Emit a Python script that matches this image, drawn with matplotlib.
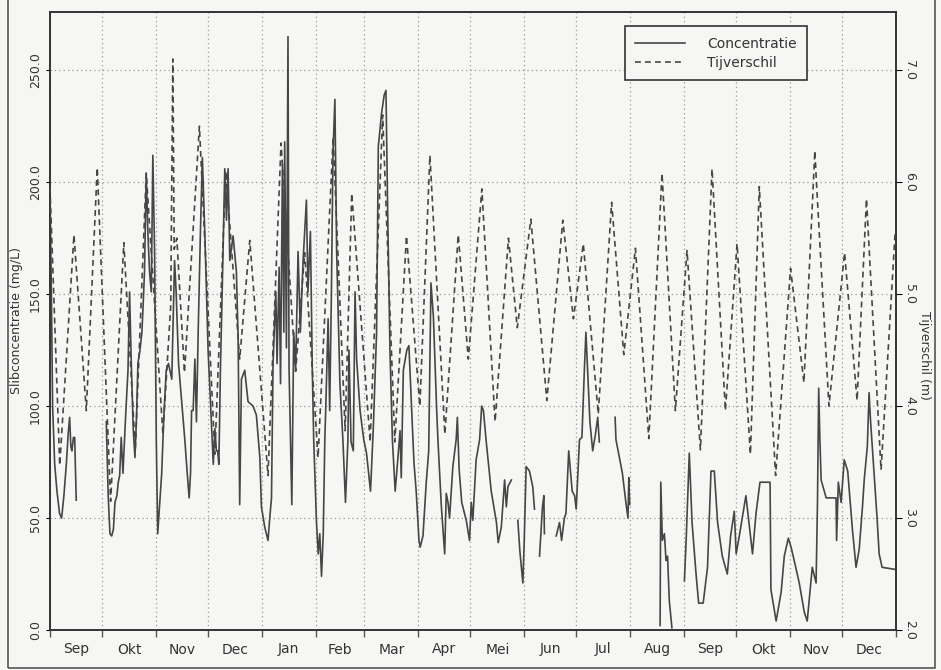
import numpy as np
import matplotlib
matplotlib.use("Agg")
import matplotlib.pyplot as plt
from matplotlib.patches import Rectangle
from matplotlib.lines import Line2D

nan = np.nan

# months shown on the x axis (Sep of year 1 .. Dec of year 2)
month_names = ["Sep", "Okt", "Nov", "Dec", "Jan", "Feb", "Mar", "Apr",
               "Mei", "Jun", "Jul", "Aug", "Sep", "Okt", "Nov", "Dec"]
month_days = [30, 31, 30, 31, 31, 28, 31, 30, 31, 30, 31, 31, 30, 31, 30, 31]

# slibconcentratie (mg/L), day counted from 1 Sep; nan = no measurement
conc_day = [0, 0.8, 1.5, 2.7, 4, 5.5, 6.7, 8, 9.4, 10.5, 11.3, 12, 12.6, 13.5, 14.2, 15.1, 15.5,
            32.4, 33.5, 34.5, 35.5, 36.5, 37.4, 38.5, 39.3, 40.1, 41, 42, 43.5, 44.9, 45.8,
            46.8, 47.9, 48.9, 49.8, 50.6, 51.8, 52.9, 53.6, 54.4, 55.4, 56.3, 57.3, 58.3,
            59.2, 60.2, 61.2, 62, 63, 64.3, 65.5, 66.9, 68.2, 70.1, 71.7, 72.6, 74, 75.5,
            77.6, 79, 80.1, 80.9, 81.5, 82.4, 83.4, 84.3, 85.3, 86.6, 87.7, 89.1, 91, 92.9,
            94, 94.9, 95.8, 96.5, 97.2, 98.1, 99.7, 100.6, 101.6, 102.5, 103.5, 105.4, 107.3,
            108.3, 109.2, 110.2, 112.1, 114, 116.9, 118.8, 120.8, 121.7, 123.6, 125.5, 126.5,
            127.5, 128.4, 130, 130.7, 131.9, 132.7, 133.8, 134.6, 135.1, 136.1, 137, 137.6,
            139.2, 140.3, 141.4, 142.8, 144.1, 145.7, 147.6, 148.5, 149.9, 151, 151.8, 153.4,
            154.4, 155.3, 156.3, 157.3, 158.2, 158.7, 160.1, 161, 162, 162.9, 164, 165, 166.9,
            168.6, 170.1, 171.5, 172.1, 173.3, 174.6, 175.6, 176.5, 178.5, 180.6, 182.2, 184.5,
            186.1, 188, 189, 190.9, 192.4, 193.4, 194.4, 195.7, 197.1, 198.7, 200.2, 201.5,
            202.2, 203.4, 205.4, 206.6, 208.2, 209.5, 210.8, 212.4, 213.1, 214.7, 216.6, 218,
            219.3, 220.7, 222.6, 223.3, 225.3, 227.2, 228.1, 229.1, 230, 231.9, 233.8, 234.5,
            235.5, 237, 239.6, 241.5, 242.5, 243.4, 245.3, 247.3, 248.5, 249.5, 251, 254, 257,
            258, 259.8, 261.7, 262.7, 263.6, 265.6, 266,
            269.3, 270.5, 272.2, 273, 274.1, 276, 277.9, 278.9, 279.5,
            281.8, 283.5, 284.3, 284.6, 285,
            291.4, 293.3, 294.5, 296.1, 297, 298.6, 300.6, 302, 302.9, 304.8, 306.2, 307.6,
            308.5, 309.5, 310.8, 312.4, 313.9, 315.3, 316.2, 317,
            325.3, 325.8, 327.5, 329.5, 331.5, 332.7, 333.2, 333.7, 334,
            351.2, 351.6, 352.5, 353.7, 354.6, 355.5, 356.5, 358, 359,
            365.2, 366.3, 368, 369.6, 371.9, 373.4, 376, 378.5, 380.5, 382.4, 384.3, 387,
            389.9, 391.8, 393.9, 395, 396.8, 400.6, 404.4, 406.4, 408.7, 414.5, 415, 418,
            420.9, 422.7, 425, 426.6, 428.4, 431.3, 434.2, 435.9, 438.8, 441, 441.8, 442.5,
            443.2, 443.9, 446.8, 452.5, 452.8, 453.8, 455.4, 457.2, 459.2, 461.9, 464, 465.8,
            467.7, 468.7, 470.5, 471.5, 472.3, 474.4, 476.1, 477.3, 479, 487]
conc_val = [195, 150, 100, 74, 62, 52, 50, 60, 74, 88, 95, 82, 80, 86, 86, 58, nan,
            93, 60, 43, 42, 45, 57, 60, 66, 69, 86, 70, 95, 116, 151,
            119, 90, 77, 95, 119, 125, 133, 145, 160, 204, 178, 160, 151,
            212, 169, 84, 43, 55, 70, 95, 116, 119, 112, 165, 151, 119, 105,
            85, 70, 59, 70, 98, 98, 121, 93, 133, 178, 211, 178, 125, 93,
            74, 90, 80, 80, 74, 116, 172, 206, 183, 206, 165, 176, 160,
            130, 56, 112, 116, 102, 100, 96, 77, 55, 46, 40, 50,
            59, 119, 151, 119, 162, 110, 208, 133, 218, 126, 265, 117,
            56, 133, 116, 169, 133, 165, 192, 151, 178, 116, 85, 48,
            34, 43, 24, 43, 85, 98, 139, 98, 151, 213, 237, 169, 110,
            85, 57, 85, 125, 84, 80, 151, 121, 98, 85, 79, 62,
            90, 133, 216, 231, 239, 241, 186, 125, 85, 62, 76, 89,
            68, 116, 125, 127, 98, 75, 62, 40, 37, 42, 66, 80,
            155, 140, 98, 85, 55, 34, 61, 57, 50, 73, 85, 95,
            72, 57, 49, 40, 57, 49, 76, 85, 100, 98, 85, 62, 48,
            39, 46, 67, 55, 64, 67, nan,
            49, 35, 21, 40, 73, 71, 64, 54, nan,
            33, 55, 60, 43, nan,
            42, 48, 40, 50, 52, 80, 62, 60, 54, 85, 86, 116,
            133, 116, 93, 80, 87, 95, 84, nan,
            95, 85, 78, 70, 57, 50, 68, 56, nan,
            2, 66, 40, 43, 31, 33, 13, 1, nan,
            22, 42, 79, 48, 25, 12, 12, 28, 71, 71, 48, 33,
            25, 42, 53, 34, 42, 60, 34, 52, 66, 66, 18, 4,
            17, 33, 41, 37, 31, 21, 8, 4, 28, 21, 57, 108,
            85, 67, 59, 59, 40, 66, 57, 76, 71, 45, 28, 36,
            55, 67, 82, 106, 94, 70, 50, 34, 28, 27]

# tijverschil (m), day counted from 1 Sep
tide_day = [0, 5.6, 13.8, 20.9, 27.2, 34.9, 42.5, 49.1, 55.4, 65, 69.5, 70.7, 71.5, 73,
            77.4, 86, 94.9, 101.2, 109.2, 115, 125.5, 133, 141.4, 146.6, 154.3, 163,
            169.9, 173.7, 184.3, 191.5, 198.5, 205.2, 212.9, 218.7, 227.3, 235, 240.8,
            248.6, 256.2, 263.9, 269, 276.8, 286, 295.2, 301.3, 307, 315.6, 323.3, 330.3,
            337, 344.7, 352.3, 360, 366.7, 374.4, 381.1, 388.8, 395.5, 403.2, 408.3,
            417.7, 426.3, 434, 440.3, 441.2, 448.4, 457.4, 464.6, 470, 478.4, 486.5]
tide_val = [5.95, 3.47, 5.53, 3.96, 6.13, 3.15, 5.46, 3.61, 6.08, 3.75, 4.9, 7.1, 5.4, 5.5,
            4.3, 6.5, 3.57, 6.1, 4.42, 5.48, 3.38, 6.35, 4.31, 5.37, 3.54, 6.4,
            3.78, 5.9, 3.68, 6.6, 3.68, 5.52, 4.0, 6.24, 3.75, 5.53, 4.42,
            5.94, 3.86, 5.5, 4.7, 5.67, 4.05, 5.66, 4.78, 5.45, 3.93, 5.82, 4.46,
            5.41, 3.71, 6.08, 3.96, 5.39, 3.61, 6.12, 3.96, 5.45, 3.57, 5.96,
            3.38, 5.23, 4.21, 6.28, 6.0, 4.0, 5.37, 4.05, 5.85, 3.43, 5.55]

bounds = np.concatenate([[0], np.cumsum(month_days)])
mids = (bounds[:-1] + bounds[1:]) / 2

bg = "#f6f6f4"
ink = "#464646"

fig = plt.figure(figsize=(9.41, 6.70), dpi=100, facecolor=bg)
ax = fig.add_axes([50 / 941, 40 / 670, 846 / 941, 618 / 670], facecolor=bg)
ax2 = ax.twinx()

ax.plot(conc_day, conc_val, color=ink, lw=1.2, label="Concentratie", zorder=3)
ax2.plot(tide_day, tide_val, color=ink, lw=1.2, ls=(0, (3.5, 2.5)), label="Tijverschil", zorder=3)

ax.set_xlim(0, bounds[-1])
ax.set_ylim(0, 276)
ax2.set_ylim(2.0, 7.52)

# month boundaries carry ticks and grid, labels sit mid-month
ax.set_xticks(bounds)
ax.set_xticklabels([])
ax.set_xticks(mids, minor=True)
ax.set_xticklabels(month_names, minor=True)
ax.tick_params(axis="x", which="major", direction="out", length=5, width=1, color="#555")
ax.tick_params(axis="x", which="minor", length=0, pad=9, labelsize=10, labelcolor="#333")

ax.set_yticks(np.arange(0, 251, 50))
ax.set_yticklabels([f"{v:.1f}" for v in np.arange(0, 251, 50)], rotation=90, va="center")
ax.tick_params(axis="y", direction="out", length=3, labelsize=9, labelcolor="#333", pad=3)

ax2.set_yticks(np.arange(2, 7.1, 1.0))
ax2.set_yticklabels([f"{v:.1f}" for v in np.arange(2, 7.1, 1.0)], rotation=270, va="center")
ax2.tick_params(axis="y", direction="out", length=4, labelsize=9, labelcolor="#333", pad=1)

ax.grid(True, which="major", ls=(0, (1, 2.5)), color="#9a9a9a", lw=0.9)

ax.set_ylabel("Slibconcentratie (mg/L)", fontsize=9, color="#333")
ax.yaxis.set_label_coords(-0.032, 0.5)
ax2.set_ylabel("Tijverschil (m)", fontsize=9, color="#333", rotation=270, va="center")
ax2.yaxis.set_label_coords(1.034, 0.445)

for a in (ax, ax2):
    for s in a.spines.values():
        s.set_color("#333")
        s.set_linewidth(1.2)

handles = [Line2D([], [], color=ink, lw=1.2),
           Line2D([], [], color=ink, lw=1.2, ls=(0, (3.5, 2.5)))]
leg = ax2.legend(handles, ["Concentratie", "Tijverschil"], loc="upper left",
                 bbox_to_anchor=(0.671, 0.988), fontsize=10, handlelength=3.6,
                 handletextpad=1.6, borderpad=0.75, labelspacing=0.35,
                 fancybox=False, framealpha=1, facecolor=bg, edgecolor="#333")
leg.get_frame().set_linewidth(1.2)
for t in leg.get_texts():
    t.set_color("#333")

# page frame around the drawing
fig.add_artist(Rectangle((8 / 941, 2 / 670), 927 / 941, 700 / 670, transform=fig.transFigure,
                         fill=False, edgecolor="#555", lw=1.2))

fig.savefig("out.png", dpi=100, facecolor=bg)
